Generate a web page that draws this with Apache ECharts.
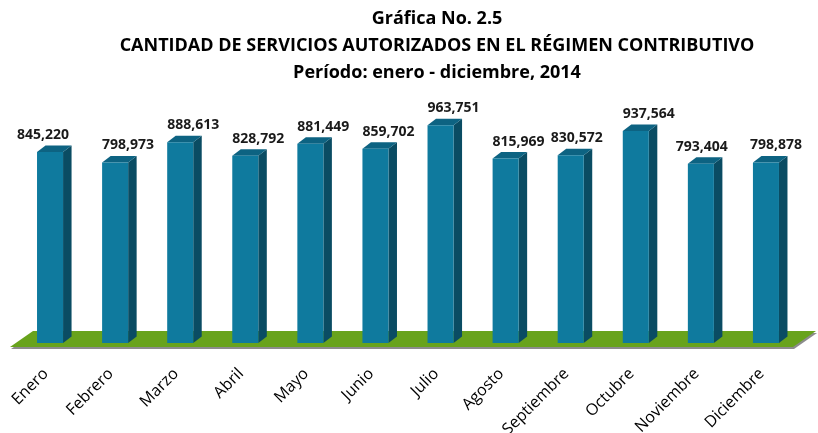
<!DOCTYPE html>
<html>
<head>
<meta charset="utf-8">
<title>Gráfica No. 2.5</title>
<script src="https://cdn.jsdelivr.net/npm/echarts@6/dist/echarts.min.js"></script>
<style>
    html, body { margin: 0; padding: 0; background: #fff; }
    #chart { width: 818px; height: 433px; }
</style>
</head>
<body>
<div id="chart"></div>
<script>
/* datos */
var meses = ['Enero', 'Febrero', 'Marzo', 'Abril', 'Mayo', 'Junio', 'Julio', 'Agosto', 'Septiembre', 'Octubre', 'Noviembre', 'Diciembre'];
var servicios = [845220, 798973, 888613, 828792, 881449, 859702, 963751, 815969, 830572, 937564, 793404, 798878];
var titulos = ['Gráfica No. 2.5', 'CANTIDAD DE SERVICIOS AUTORIZADOS EN EL RÉGIMEN CONTRIBUTIVO', 'Período: enero - diciembre, 2014'];

// pequeños desplazamientos de las etiquetas (como en el original)
var etiquetaDx = [-20, 0, 0, 0, 0, 0, 0, 0, -7, 0, -12, -3];

var colorFrente = '#0f7a9e';
var colorLado = '#0a4c63';
var colorArriba = '#0d6382';
var colorPiso = '#68a31c';

function fmt(v) {
    return String(v).replace(/\B(?=(\d{3})+(?!\d))/g, ',');
}

/* piso verde */
function renderPiso(params, api) {
    var cs = params.coordSys;
    var base = cs.y + cs.height;
    var izq = cs.x - 7.5, der = cs.x + cs.width - 5.5;
    var frente = base + 4, fondo = base - 12, prof = 23;
    return {
        type: 'group',
        children: [
            {
                type: 'polygon',
                shape: { points: [[izq + 1, frente + 2], [der + 1, frente + 2], [der + prof + 1, fondo + 2], [izq + prof + 1, fondo + 2]] },
                style: { fill: '#8c8c8c' }
            },
            {
                type: 'polygon',
                shape: { points: [[izq, frente], [der, frente], [der + prof, fondo], [izq + prof, fondo]] },
                style: { fill: colorPiso }
            }
        ]
    };
}

/* barras 3d */
function renderBarra(params, api) {
    var idx = api.value(0);
    var arriba = api.coord([idx, api.value(1)]);
    var abajo = api.coord([idx, 0]);
    var medio = api.size([1, 0])[0] * 0.2;
    var dx = 8.5, dy = 6.5;
    var x0 = arriba[0] - medio, x1 = arriba[0] + medio;
    var y0 = arriba[1], y1 = abajo[1];
    return {
        type: 'group',
        children: [
            {
                type: 'polygon',
                shape: { points: [[x1, y0], [x1 + dx, y0 - dy], [x1 + dx, y1 - dy], [x1, y1]] },
                style: { fill: colorLado }
            },
            {
                type: 'polygon',
                shape: { points: [[x0, y0], [x0 + dx, y0 - dy], [x1 + dx, y0 - dy], [x1, y0]] },
                style: { fill: colorArriba }
            },
            {
                type: 'rect',
                shape: { x: x0, y: y0, width: x1 - x0, height: y1 - y0 },
                style: { fill: colorFrente }
            },
            {
                type: 'text',
                x: x0 + etiquetaDx[params.dataIndex],
                y: y0 - 17,
                style: {
                    text: fmt(api.value(1)),
                    fill: '#1a1a1a',
                    font: 'bold 14px "Open Sans"',
                    align: 'left',
                    verticalAlign: 'middle'
                }
            }
        ]
    };
}

var datos = servicios.map(function (v, i) { return [i, v]; });

var myChart = echarts.init(document.getElementById('chart'), null, { renderer: 'canvas' });
var option = {
    animation: false,
    backgroundColor: '#fff',
    graphic: titulos.map(function (t, i) {
        return {
            type: 'text',
            x: 437,
            y: 19 + i * 27,
            style: {
                text: t,
                fill: '#000',
                font: 'bold 18px "Open Sans"',
                align: 'center',
                verticalAlign: 'middle'
            }
        };
    }),
    grid: {
        left: 17.5,
        right: 19.5,
        top: 117,
        bottom: 90,
        outerBoundsMode: 'none'
    },
    xAxis: {
        type: 'category',
        data: meses,
        axisLine: { show: false },
        axisTick: { show: false },
        axisLabel: {
            rotate: 45,
            margin: 24,
            padding: [0, 6, 0, 0],
            color: '#000',
            fontSize: 16,
            fontFamily: 'Open Sans',
            interval: 0
        }
    },
    yAxis: {
        type: 'value',
        min: 0,
        max: 1000000,
        show: false
    },
    series: [
        {
            type: 'custom',
            renderItem: renderPiso,
            data: [[0, 0]],
            silent: true,
            z: 1
        },
        {
            type: 'custom',
            renderItem: renderBarra,
            data: datos,
            z: 2
        }
    ]
};
myChart.setOption(option);
</script>
</body>
</html>
